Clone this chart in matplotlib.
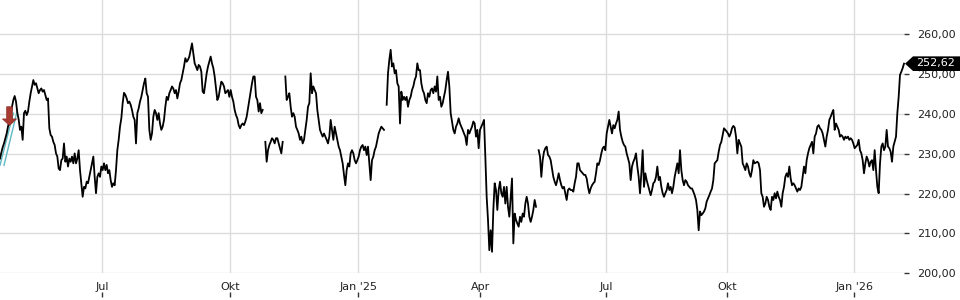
import numpy as np
import matplotlib
matplotlib.use("Agg")
import matplotlib.pyplot as plt
from matplotlib.patches import Polygon
from matplotlib.path import Path
import matplotlib.transforms as mtransforms

nan = float("nan")

# ---- price series (one value per bar; nan = missing data) ----
prices_p1 = [
    228.8, 230.3, 231.6, 232.6, 233.9, 235.1, 236.8, 238.3, 239.7, 241.8,
    243.5, 244.5, 243.1, 240.3, 238.6, 236.0, 236.8, 233.5, 240.2, 240.8,
    239.7, 240.6, 243.1, 245.2, 246.9, 248.5, 247.3, 247.7, 246.4, 245.2,
    246.0, 246.4, 245.6, 246.0, 244.8, 243.5, 243.9, 236.4, 234.7, 234.3,
    233.0, 232.2, 230.1, 229.3, 226.3, 225.9, 228.4, 228.8, 232.6, 228.0,
    229.3, 226.8, 228.8, 228.0, 229.3, 227.6, 230.1, 227.6, 228.8, 230.9,
    225.9, 222.6, 219.2, 221.7, 221.3, 223.0, 222.6, 224.2, 225.9, 227.6,
    229.3, 224.2, 220.1, 224.2, 225.1, 224.2, 226.8, 225.9, 227.6, 225.9,
    227.2, 225.1, 225.9, 223.4, 221.7, 222.6, 222.1, 225.9, 230.9, 233.5,
    236.8, 238.9, 242.7, 245.3, 244.8, 243.9, 242.7, 243.1, 242.3, 241.0,
    239.3, 238.5, 232.6, 240.2, 241.4, 243.1, 244.3, 246.0, 247.7, 248.9,
    245.2, 244.3, 236.0,
]
prices_p2 = [
    233.5, 235.1, 239.3, 241.0, 240.2, 238.5, 240.2, 237.6, 236.0, 236.8,
    238.5, 241.8, 244.3, 243.5, 245.2, 246.0, 246.9, 246.4, 245.2, 246.0,
    243.9, 245.6, 247.7, 248.5, 250.2, 251.9, 254.0, 253.1, 253.6, 254.4,
    256.1, 257.7, 255.2, 252.7, 251.9, 251.0, 252.3, 251.9, 250.6, 245.6,
    245.2, 247.7, 250.2, 251.9, 253.1, 254.4, 252.7, 251.5, 249.4, 246.4,
    243.5, 244.3, 246.4, 248.1, 247.7, 246.9, 245.2, 245.6, 246.0, 244.3,
    246.0, 244.3, 243.1, 241.0, 239.7, 238.9, 237.2, 236.4, 237.2, 237.6,
    237.2, 238.1, 239.3, 241.4, 243.5, 245.6, 247.7, 249.4, 249.4, 244.3,
    243.5, 240.6, 242.7, 240.2, 241.0, nan, 233.0, 228.0, 230.9, 232.2,
    233.0, 233.9, 233.5, 232.6, 233.9, 233.9, 232.6, 231.4, 230.1, 233.0,
    nan, 249.4, 243.5, 244.3, 245.2, 241.8, 239.3, 240.2, 239.3, 236.8,
    236.0, 235.1, 233.5,
]
prices_p3 = [
    234.3, 232.6, 233.5, 236.0, 238.5, 241.8, 242.7, 250.2, 245.2, 246.9,
    246.0, 245.2, 241.0, 238.5, 236.0, 235.1, 234.3, 235.1, 234.3, 233.5,
    232.6, 234.3, 238.5, 236.0, 233.5, 236.8, 235.1, 233.5, 231.8, 230.9,
    229.3, 227.6, 224.7, 222.1, 225.9, 227.6, 226.8, 230.1, 230.9, 230.1,
    228.4, 227.6, 228.4, 229.3, 230.9, 231.8, 232.2, 230.9, 231.8, 229.7,
    231.8, 227.6, 223.4, 228.4, 229.3, 230.9, 231.8, 233.5, 235.1, 236.0,
    236.8, 236.4, 236.0, nan, 242.3, 250.2, 253.6, 256.1, 251.9, 252.7,
    250.2, 251.0, 247.7, 246.9, 237.6, 245.6, 243.5, 244.3, 243.5, 244.3,
    241.8, 243.5, 244.3, 246.0, 246.9, 248.5, 249.4, 252.7, 251.0, 251.0,
    247.7, 246.0, 245.2, 243.5, 242.7, 245.2, 244.3, 246.0, 246.4, 245.2,
    246.9, 245.6, 249.4, 243.5, 244.3, 241.8, 242.7, 244.3, 246.0, 248.5,
    250.6, 246.9, 240.2, 238.1, 236.0, 235.1,
]
prices_p4 = [
    236.8, 237.6, 238.9, 237.6, 236.8, 236.0, 235.1, 234.3, 232.2, 236.0,
    235.1, 236.0, 236.8, 238.1, 237.6, 234.3, 236.0, 231.4, 236.0, 236.8,
    237.6, 238.5, 229.3, 219.2, 213.4, 205.8, 210.8, 205.4, 215.9, 222.6,
    220.9, 215.9, 220.9, 223.0, 220.1, 219.2, 221.7, 217.5, 221.7, 216.7,
    214.2, 219.2, 223.8, 207.5, 215.0, 213.4, 212.5, 211.7, 214.2, 212.9,
    215.0, 214.2, 217.5, 219.2, 217.5, 214.2, 212.9, 214.2, 215.9, 218.4,
    216.7, nan, 230.9, 229.3, 224.2, 228.4, 230.5, 231.4, 231.8, 229.7,
    229.3, 228.4, 226.3, 224.2, 223.0, 222.1, 223.4, 225.1, 223.4, 222.1,
    221.3, 221.7, 220.1, 218.4, 220.9, 221.3, 220.9, 220.9, 220.5, 222.6,
    224.2, 227.6, 227.6, 225.9, 225.5, 225.1, 224.7, 224.7, 223.8, 221.7,
    220.1, 221.3, 222.1, 222.6, 223.0, 225.1, 227.6, 227.2, 228.4, 230.1,
    231.4, 231.8,
]
prices_p5 = [
    230.9, 235.1, 236.8, 238.5, 236.8, 235.1, 237.2, 236.4, 237.6, 238.5,
    240.6, 236.0, 234.3, 233.0, 232.2, 231.8, 230.1, 228.8, 227.6, 223.4,
    226.8, 228.0, 228.8, 230.1, 226.8, 224.2, 220.1, 225.1, 230.9, 221.7,
    225.1, 223.4, 222.1, 220.9, 219.6, 220.9, 222.6, 223.0, 224.2, 226.8,
    223.4, 224.2, 221.7, 220.1, 219.2, 220.1, 220.9, 222.6, 220.9, 221.7,
    220.1, 221.7, 224.2, 225.9, 227.6, 225.1, 230.9, 225.9, 223.4, 222.1,
    223.4, 223.0, 222.1, 221.7, 221.3, 221.3, 220.5, 219.6, 218.4, 215.9,
    210.8, 215.5, 214.6, 215.0, 215.5, 216.3, 218.0, 218.8, 219.6, 220.5,
    221.3, 223.4, 227.6, 228.0, 228.4, 230.5, 232.2, 233.0, 234.7, 236.4,
    236.0, 235.6, 235.1, 234.3, 235.1, 236.4, 237.0, 236.6, 234.3, 230.1,
    233.5, 232.6, 231.8, 227.6, 226.8, 225.9, 227.6, 226.8, 225.1, 224.2,
    225.9, 228.4, 227.6,
]
prices_p6 = [
    227.8, 228.0, 227.6, 225.9, 220.1, 219.2, 216.7, 217.5, 219.2, 218.4,
    216.7, 215.9, 219.2, 218.4, 220.1, 218.8, 220.5, 219.2, 218.4, 216.7,
    220.1, 221.7, 224.2, 225.1, 224.2, 226.8, 223.8, 222.1, 222.6, 222.1,
    221.3, 220.5, 221.3, 220.9, 221.7, 224.2, 226.8, 225.1, 228.4, 230.1,
    231.4, 232.2, 233.0, 230.1, 234.3, 235.1, 236.8, 237.2, 236.4, 236.0,
    235.1, 233.5, 231.8, 234.3, 236.0, 238.5, 239.3, 240.2, 241.0, 236.0,
    237.6, 236.8, 236.0, 234.3, 234.7, 234.3, 233.5, 234.3, 233.9, 234.3,
    233.5, 233.9, 233.5, 232.6, 231.4, 231.8, 232.2, 233.5, 230.9, 230.1,
    228.4, 225.1, 227.6, 229.3, 228.4, 226.8, 228.0, 228.4, 225.9, 230.9,
    225.9, 221.7, 220.1, 227.6, 231.8, 232.6, 230.9, 231.8, 236.0, 231.8,
    231.4, 230.5, 228.0, 231.8, 233.0, 234.3, 240.2, 244.3, 249.8, 250.6,
    251.5, 252.62,
]

# x-axis: bar index of the first bar of each labelled month
tick_pos = [76.7, 172.7, 268.7, 360.2, 454.7, 545.5, 640.7]
tick_labels = ["Jul", "Okt", "Jan '25", "Apr", "Jul", "Okt", "Jan '26"]
y_ticks = [200, 210, 220, 230, 240, 250, 260]

# trend channel at the start and sell signal
channel_a_idx = [0, 10]
channel_a_val = [227.1, 240.2]
channel_b_idx = [3, 13]
channel_b_val = [227.1, 240.9]
signal_idx = [7]
signal_val = [237.2]

prices = np.array(prices_p1 + prices_p2 + prices_p3 + prices_p4 + prices_p5 + prices_p6,
                  dtype=float)
bars = np.arange(len(prices))
last_bar = bars[-1]
last_price = prices[-1]
last_text = f"{last_price:.2f}".replace(".", ",")

# ---- figure ----
W, H = 960, 300
fig = plt.figure(figsize=(W / 100, H / 100), dpi=100)
ax_bottom_px = 273.3
ax_right_px = 904
ax = fig.add_axes([0, 1 - ax_bottom_px / H, ax_right_px / W, ax_bottom_px / H])

grid_col = "#dcdcdc"
text_col = "#222222"

ax.set_xlim(0, last_bar)
ax.set_ylim(200, 268.6)
ax.set_axisbelow(True)
for s in ax.spines.values():
    s.set_visible(False)

ax.set_xticks(tick_pos)
ax.set_xticklabels(tick_labels)
ax.set_yticks(y_ticks)
ax.set_yticklabels([f"{v:.2f}".replace(".", ",") for v in y_ticks])
ax.yaxis.tick_right()
ax.tick_params(axis="x", length=0, pad=6, labelsize=8, labelcolor=text_col)
ax.tick_params(axis="y", length=3.6, width=1, color="#333333", pad=5.5,
               labelsize=8, labelcolor=text_col)
ax.grid(True, color=grid_col, linewidth=1)

# small month ticks under the labels
blend = mtransforms.blended_transform_factory(ax.transData, ax.transAxes)
ax.vlines(tick_pos, -0.087, -0.068, transform=blend, colors="#333333",
          linewidth=1, clip_on=False)

# trend channel
ax.plot(channel_a_idx, channel_a_val, color="#5fb8c2", linewidth=1, zorder=3)
ax.plot(channel_b_idx, channel_b_val, color="#5fb8c2", linewidth=1, zorder=3)

# price line
ax.plot(bars, prices, color="black", linewidth=1.3, zorder=4, clip_on=False)

# sell signal arrow (tip at the data point)
arrow_verts = [(0, 0), (0.376, 0.35), (0.15, 0.35), (0.15, 1.0), (-0.15, 1.0),
               (-0.15, 0.35), (-0.376, 0.35), (0, 0)]
arrow_codes = [Path.MOVETO] + [Path.LINETO] * 6 + [Path.CLOSEPOLY]
arrow_path = Path(arrow_verts, arrow_codes)
ax.plot(signal_idx, signal_val, linestyle="none", marker=arrow_path, markersize=27,
        color="#a83a32", markeredgecolor="#8c2c25", markeredgewidth=0.5, zorder=5)

# last price tag
px = fig.dpi / 100.0
tag_trans = mtransforms.Affine2D().scale(px) + \
    mtransforms.ScaledTranslation(last_bar, last_price, ax.transData)
tag = Polygon([(1, 0), (9, 7.3), (70, 7.3), (70, -7.3), (9, -7.3)], closed=True,
              transform=tag_trans, facecolor="black", edgecolor="none",
              clip_on=False, zorder=6)
ax.add_artist(tag)
ax.annotate(last_text, xy=(last_bar, last_price), xytext=(32, 0.5),
            textcoords="offset pixels", color="white", fontsize=8,
            ha="center", va="center", zorder=7, annotation_clip=False)

fig.savefig("out.png", dpi=100, facecolor="white")
